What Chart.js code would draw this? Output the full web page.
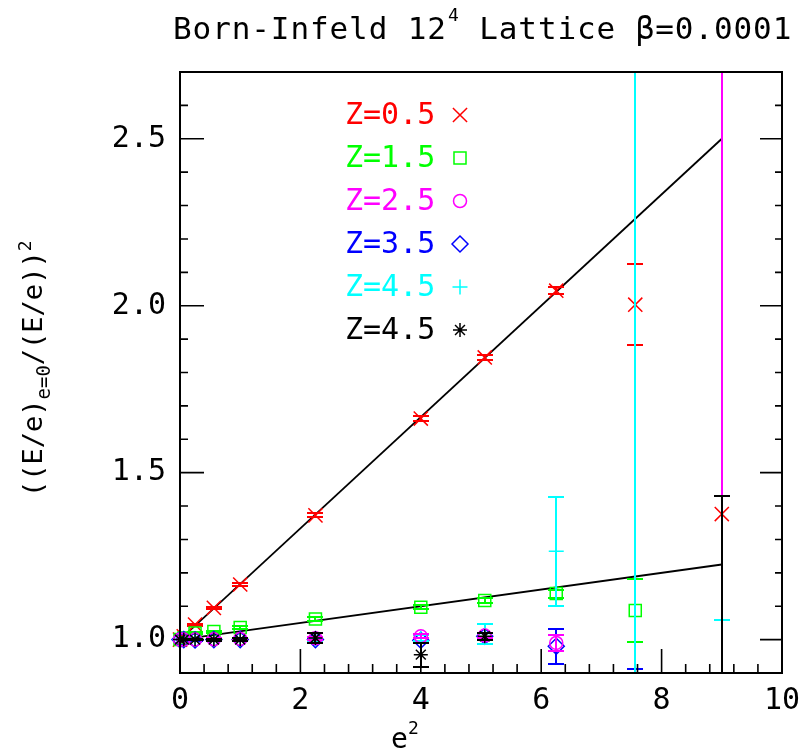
<!DOCTYPE html>
<html><head><meta charset="utf-8">
<script src="https://cdn.jsdelivr.net/npm/chart.js@4.4.0/dist/chart.umd.min.js"></script>
<style>html,body{margin:0;padding:0;background:#fff;}#wrap{width:802px;height:753px;}</style>
</head><body><div id="wrap"><canvas id="c" width="802" height="753"></canvas></div>
<script>
// ---- data ----
const e2 = [0, 0.0625, 0.25, 0.5625, 1.0, 2.25, 4.0, 5.0625, 6.25, 7.5625, 9.0];
const z05    = [1.000, 1.010, 1.045, 1.095, 1.165, 1.372, 1.662, 1.845, 2.045, 2.003, 1.376];
const z05err = [0.002, 0.002, 0.003, 0.004, 0.005, 0.006, 0.008, 0.008, 0.010, 0.122, null];
const z15    = [1.000, 1.005, 1.020, 1.024, 1.036, 1.062, 1.097, 1.117, 1.138, 1.087, null];
const z15err = [0.001, 0.002, 0.003, 0.003, 0.004, 0.005, 0.006, 0.008, 0.012, 0.095, null];
const z25    = [1.000, 1.000, 1.000, 1.001, 1.002, 1.004, 1.010, 1.012, 0.990, null, 3.000];
const z25err = [0.002, 0.002, 0.002, 0.003, 0.003, 0.004, 0.006, 0.008, 0.023, null, 1.570];
const z35    = [1.000, 1.000, 0.999, 1.000, 1.000, 1.000, 0.998, 1.010, 0.980, 3.000, null];
const z35err = [0.002, 0.002, 0.002, 0.003, 0.003, 0.004, 0.006, 0.009, 0.053, 2.087, null];
const z45    = [1.000, 1.000, 1.000, 1.000, 1.000, 1.002, 1.005, 1.018, 1.265, 3.000, 3.500];
const z45err = [0.002, 0.002, 0.002, 0.003, 0.004, 0.006, 0.008, 0.030, 0.163, 2.500, 2.440];
const z45b    = [1.000, 1.000, 1.000, 1.000, 1.000, 1.005, 0.955, 1.010, null, null, 0.850];
const z45berr = [0.002, 0.002, 0.002, 0.003, 0.004, 0.015, 0.036, 0.010, null, null, 0.580];
const fitX = [0, 9];
const fit1 = [1.0, 2.5];
const fit2 = [1.0, 1.225];
const xTicks = [0, 2, 4, 6, 8, 10];
const yTicks = [1.0, 1.5, 2.0, 2.5];
const seriesLabels = ['Z=0.5', 'Z=1.5', 'Z=2.5', 'Z=3.5', 'Z=4.5', 'Z=4.5'];
const seriesColors = ['#ff0000', '#00ff00', '#ff00ff', '#0000ff', '#00ffff', '#000000'];
const seriesStyles = ['crossRot', 'rect', 'circle', 'rectRot', 'cross', 'star'];
const seriesRadius = [10, 8.5, 6.5, 8, 7.5, 7];
const seriesOrder = [5, 4, 1, 3, 2, 0];
const seriesY = [z05, z15, z25, z35, z45, z45b];
const seriesErr = [z05err, z15err, z25err, z35err, z45err, z45berr];
const titleText = ['Born-Infeld 12', '4', ' Lattice \u03B2=0.0001'];

const MONO = '"DejaVu Sans Mono"';

const datasets = seriesY.map((ys, s) => ({
  label: seriesLabels[s],
  data: e2.map((x, i) => ys[i] == null ? null : { x: x, y: ys[i], err: seriesErr[s][i] }).filter(p => p),
  showLine: false,
  pointStyle: seriesStyles[s],
  pointRadius: seriesRadius[s],
  pointHoverRadius: seriesRadius[s],
  pointBorderColor: seriesColors[s],
  pointBackgroundColor: 'rgba(0,0,0,0)',
  pointBorderWidth: 1.5,
  errColor: seriesColors[s],
  order: seriesOrder[s],
  clip: { left: 12, right: 12, top: 0, bottom: 0 }
}));
datasets.push({ type: 'line', label: 'fit1', data: fitX.map((x, i) => ({ x: x, y: fit1[i] })), borderColor: '#000', borderWidth: 1.8, pointRadius: 0, order: 10, fill: false });
datasets.push({ type: 'line', label: 'fit2', data: fitX.map((x, i) => ({ x: x, y: fit2[i] })), borderColor: '#000', borderWidth: 1.8, pointRadius: 0, order: 10, fill: false });

const errorBars = {
  id: 'errorBars',
  afterDatasetDraw(chart, args) {
    const ds = chart.data.datasets[args.index];
    if (!ds.errColor) return;
    const { ctx, chartArea: a, scales: { x, y } } = chart;
    ctx.save();
    ctx.beginPath(); ctx.rect(a.left, a.top, a.width, a.height); ctx.clip();
    ctx.strokeStyle = ds.errColor; ctx.lineWidth = 2;
    ds.data.forEach(p => {
      if (p.err == null) return;
      const px = Math.round(x.getPixelForValue(p.x));
      const t = Math.round(y.getPixelForValue(p.y + p.err)), b = Math.round(y.getPixelForValue(p.y - p.err));
      ctx.beginPath();
      ctx.moveTo(px, t); ctx.lineTo(px, b);
      ctx.moveTo(px - 8, t); ctx.lineTo(px + 8, t);
      ctx.moveTo(px - 8, b); ctx.lineTo(px + 8, b);
      ctx.stroke();
    });
    ctx.restore();
  }
};

function drawSpaced(ctx, text, x, y, extra) {
  for (const ch of text) { ctx.fillText(ch, x, y); x += ctx.measureText(ch).width + extra; }
  return x;
}

const frame = {
  id: 'frame',
  afterDraw(chart) {
    const { ctx, chartArea: a, scales: { x, y } } = chart;
    ctx.save();
    ctx.strokeStyle = '#000'; ctx.lineWidth = 1.6;
    ctx.beginPath();
    for (let k = 0; k <= 25; k++) {
      const px = x.getPixelForValue(k * 0.4);
      const len = k % 5 === 0 ? 24 : 9;
      ctx.moveTo(px, a.bottom); ctx.lineTo(px, a.bottom - len);
    }
    for (let k = 0; k <= 18; k++) {
      const py = y.getPixelForValue(0.9 + k * 0.1);
      const major = (k - 1) % 5 === 0;
      ctx.moveTo(a.left, py); ctx.lineTo(a.left + (major ? 24 : 8), py);
      ctx.moveTo(a.right, py); ctx.lineTo(a.right - (major ? 22 : 7), py);
    }
    ctx.stroke();
    ctx.lineWidth = 2;
    ctx.strokeRect(a.left, a.top, a.width, a.height);

    // title
    ctx.fillStyle = '#000'; ctx.textBaseline = 'alphabetic'; ctx.textAlign = 'left';
    ctx.font = '31px ' + MONO;
    let tx = drawSpaced(ctx, titleText[0], 173, 39, 0.9);
    ctx.font = '18px ' + MONO;
    tx = drawSpaced(ctx, titleText[1], tx + 1, 21, 0.9);
    ctx.font = '31px ' + MONO;
    drawSpaced(ctx, titleText[2], tx, 39, 0.9);

    // x title
    ctx.font = '28px ' + MONO;
    ctx.fillText('e', 391, 748);
    ctx.font = '18px ' + MONO;
    ctx.fillText('2', 408, 734);

    // y title
    ctx.save();
    ctx.translate(42, 497); ctx.rotate(-Math.PI / 2);
    ctx.font = '27px ' + MONO;
    let yx = 0;
    ctx.fillText('((E/e)', yx, 0); yx += ctx.measureText('((E/e)').width;
    ctx.font = '19px ' + MONO;
    ctx.fillText('e=0', yx, 8); yx += ctx.measureText('e=0').width;
    ctx.font = '27px ' + MONO;
    ctx.fillText('/(E/e))', yx, 0); yx += ctx.measureText('/(E/e))').width;
    ctx.font = '18px ' + MONO;
    ctx.fillText('2', yx, -11);
    ctx.restore();

    // legend
    ctx.textBaseline = 'middle';
    ctx.font = '30px ' + MONO;
    chart.data.datasets.forEach((ds, i) => {
      if (!ds.errColor) return;
      const ly = 115 + i * 43;
      ctx.fillStyle = ds.errColor;
      ctx.fillText(ds.label, 345, ly + 1);
      ctx.strokeStyle = ds.errColor; ctx.lineWidth = 1.5;
      ctx.fillStyle = 'rgba(0,0,0,0)';
      Chart.helpers.drawPoint(ctx, { pointStyle: ds.pointStyle, rotation: 0, radius: ds.pointRadius, borderWidth: 1.5 }, 460, ly);
    });
    ctx.restore();
  }
};

new Chart(document.getElementById('c'), {
  type: 'scatter',
  data: { datasets: datasets },
  options: {
    responsive: false,
    animation: false,
    devicePixelRatio: 1,
    layout: { padding: { top: 72, right: 20, left: 0, bottom: 0 } },
    plugins: { legend: { display: false }, title: { display: false }, tooltip: { enabled: false } },
    scales: {
      x: {
        type: 'linear', min: 0, max: 10,
        afterBuildTicks: s => { s.ticks = xTicks.map(v => ({ value: v })); },
        afterFit: s => { s.height = 80; s.paddingLeft = 0; s.paddingRight = 0; },
        ticks: { callback: v => String(v), font: { family: 'DejaVu Sans Mono', size: 30 }, color: '#000', padding: 10, maxRotation: 0 },
        grid: { display: false, drawTicks: false },
        border: { display: false }
      },
      y: {
        type: 'linear', min: 0.9, max: 2.7,
        afterBuildTicks: s => { s.ticks = yTicks.map(v => ({ value: v })); },
        afterFit: s => { s.width = 180; s.paddingTop = 0; s.paddingBottom = 0; },
        ticks: { callback: v => v.toFixed(1), font: { family: 'DejaVu Sans Mono', size: 30 }, color: '#000', padding: 14 },
        grid: { display: false, drawTicks: false },
        border: { display: false }
      }
    }
  },
  plugins: [errorBars, frame]
});
</script></body></html>
